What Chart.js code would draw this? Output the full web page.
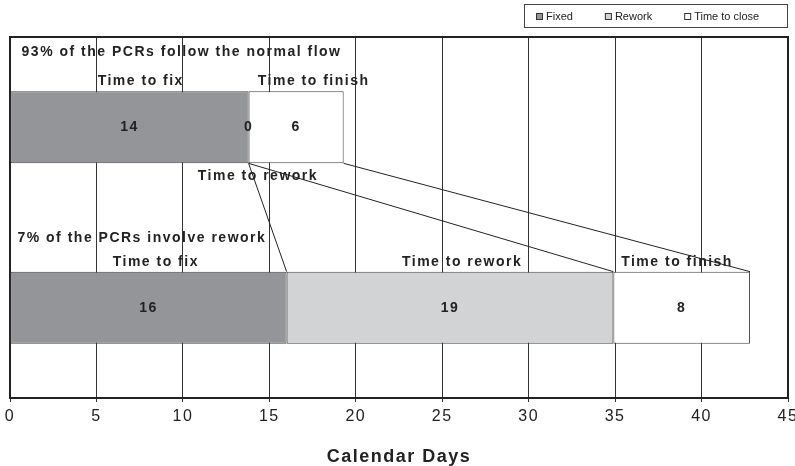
<!DOCTYPE html>
<html>
<head>
<meta charset="utf-8">
<script src="https://cdn.jsdelivr.net/npm/chart.js@4.4.1/dist/chart.umd.min.js"></script>
<style>
  html, body { margin: 0; padding: 0; background: #fff; }
</style>
</head>
<body>
<canvas id="flowChart" width="795" height="466"></canvas>
<script>
// Data
const flows = ['93% of the PCRs follow the normal flow', '7% of the PCRs involve rework'];
const seriesNames = ['Fixed', 'Rework', 'Time to close'];
const fixedDays = [13.8, 16.0];
const reworkDays = [0, 18.9];
const closeDays = [5.5, 7.9];
const stageNames = ['Time to fix', 'Time to rework', 'Time to finish'];
const xTicks = [0, 5, 10, 15, 20, 25, 30, 35, 40, 45];
const axisTitle = 'Calendar Days';

const colors = ['#939598', '#d1d3d4', '#ffffff'];
const ink = '#222';
const FONT = '"Liberation Sans", Arial, sans-serif';

// where the text notes sit: row, text, x in days, above/below the bar, gap in px
const notes = [
  { row: 0, text: flows[0], at: 0.67, above: true, gap: 39 },
  { row: 0, text: stageNames[0], at: 5.07, above: true, gap: 10 },
  { row: 0, text: stageNames[2], at: 14.33, above: true, gap: 10 },
  { row: 0, text: stageNames[1], at: 10.86, above: false, gap: 13 },
  { row: 1, text: flows[1], at: 0.43, above: true, gap: 34 },
  { row: 1, text: stageNames[0], at: 5.94, above: true, gap: 10 },
  { row: 1, text: stageNames[1], at: 22.67, above: true, gap: 10 },
  { row: 1, text: stageNames[2], at: 35.35, above: true, gap: 10 }
];

const flowPlugin = {
  id: 'flowPlugin',
  beforeDraw(chart) {
    chart.ctx.letterSpacing = '1.5px';
  },
  beforeDatasetsDraw(chart) {
    const { ctx, chartArea: a } = chart;
    ctx.save();
    ctx.strokeStyle = ink;
    ctx.lineWidth = 2;
    ctx.strokeRect(a.left, a.top, a.right - a.left, a.bottom - a.top);
    ctx.restore();
  },
  afterDatasetsDraw(chart) {
    const { ctx } = chart;
    const xs = chart.scales.x;
    ctx.save();

    // value labels
    ctx.fillStyle = ink;
    ctx.font = 'bold 14px ' + FONT;
    ctx.letterSpacing = '1.5px';
    ctx.textAlign = 'center';
    ctx.textBaseline = 'middle';
    chart.data.datasets.forEach((ds, i) => {
      chart.getDatasetMeta(i).data.forEach((bar, j) => {
        ctx.fillText(String(Math.round(ds.data[j])), (bar.x + bar.base) / 2, bar.y);
      });
    });

    // notes
    ctx.textAlign = 'left';
    notes.forEach(n => {
      const bar = chart.getDatasetMeta(0).data[n.row];
      const y = n.above ? bar.y - bar.height / 2 - n.gap : bar.y + bar.height / 2 + n.gap;
      ctx.fillText(n.text, xs.getPixelForValue(n.at), y);
    });

    // connectors between the two bars
    ctx.strokeStyle = ink;
    ctx.lineWidth = 1;
    chart.data.datasets.forEach((ds, i) => {
      const meta = chart.getDatasetMeta(i);
      const top = meta.data[0], bottom = meta.data[1];
      ctx.beginPath();
      ctx.moveTo(top.x, top.y + top.height / 2);
      ctx.lineTo(bottom.x, bottom.y - bottom.height / 2);
      ctx.stroke();
    });

    // legend box
    ctx.font = '11px ' + FONT;
    ctx.letterSpacing = '0px';
    ctx.strokeStyle = '#444';
    ctx.strokeRect(524.5, 4.5, 263, 23);
    let x = 536;
    seriesNames.forEach((name, i) => {
      ctx.fillStyle = colors[i];
      ctx.fillRect(x, 13, 7, 7);
      ctx.strokeStyle = '#333';
      ctx.strokeRect(x + 0.5, 13.5, 6, 6);
      ctx.fillStyle = ink;
      ctx.fillText(name, x + 10, 17);
      x += 10 + ctx.measureText(name).width + 32;
    });
    ctx.restore();
  }
};

const ctx = document.getElementById('flowChart').getContext('2d');
new Chart(ctx, {
  type: 'bar',
  data: {
    labels: flows,
    datasets: [
      { label: seriesNames[0], data: fixedDays, backgroundColor: colors[0] },
      { label: seriesNames[1], data: reworkDays, backgroundColor: colors[1] },
      { label: seriesNames[2], data: closeDays, backgroundColor: colors[2] }
    ].map(d => Object.assign(d, { borderColor: '#444', borderWidth: 1, borderSkipped: false }))
  },
  options: {
    indexAxis: 'y',
    responsive: false,
    animation: false,
    categoryPercentage: 0.8,
    barPercentage: 0.5,
    layout: { padding: { top: 37, left: 10, right: 7, bottom: 0 } },
    plugins: {
      legend: { display: false },
      tooltip: { enabled: false }
    },
    scales: {
      x: {
        stacked: true,
        min: 0,
        max: 45,
        afterBuildTicks: axis => { axis.ticks = xTicks.map(v => ({ value: v })); },
        afterFit: axis => { axis.paddingLeft = 0; axis.paddingRight = 0; },
        ticks: { color: ink, font: { family: FONT, size: 16, lineHeight: 1 }, padding: 7 },
        grid: { color: '#333', lineWidth: 1, tickLength: 4 },
        border: { color: ink, width: 2 },
        title: {
          display: true,
          text: axisTitle,
          color: ink,
          font: { family: FONT, size: 18, weight: 'bold', lineHeight: 1 },
          padding: { top: 16, bottom: 0 }
        }
      },
      y: { stacked: true, display: false }
    }
  },
  plugins: [flowPlugin]
});
</script>
</body>
</html>
